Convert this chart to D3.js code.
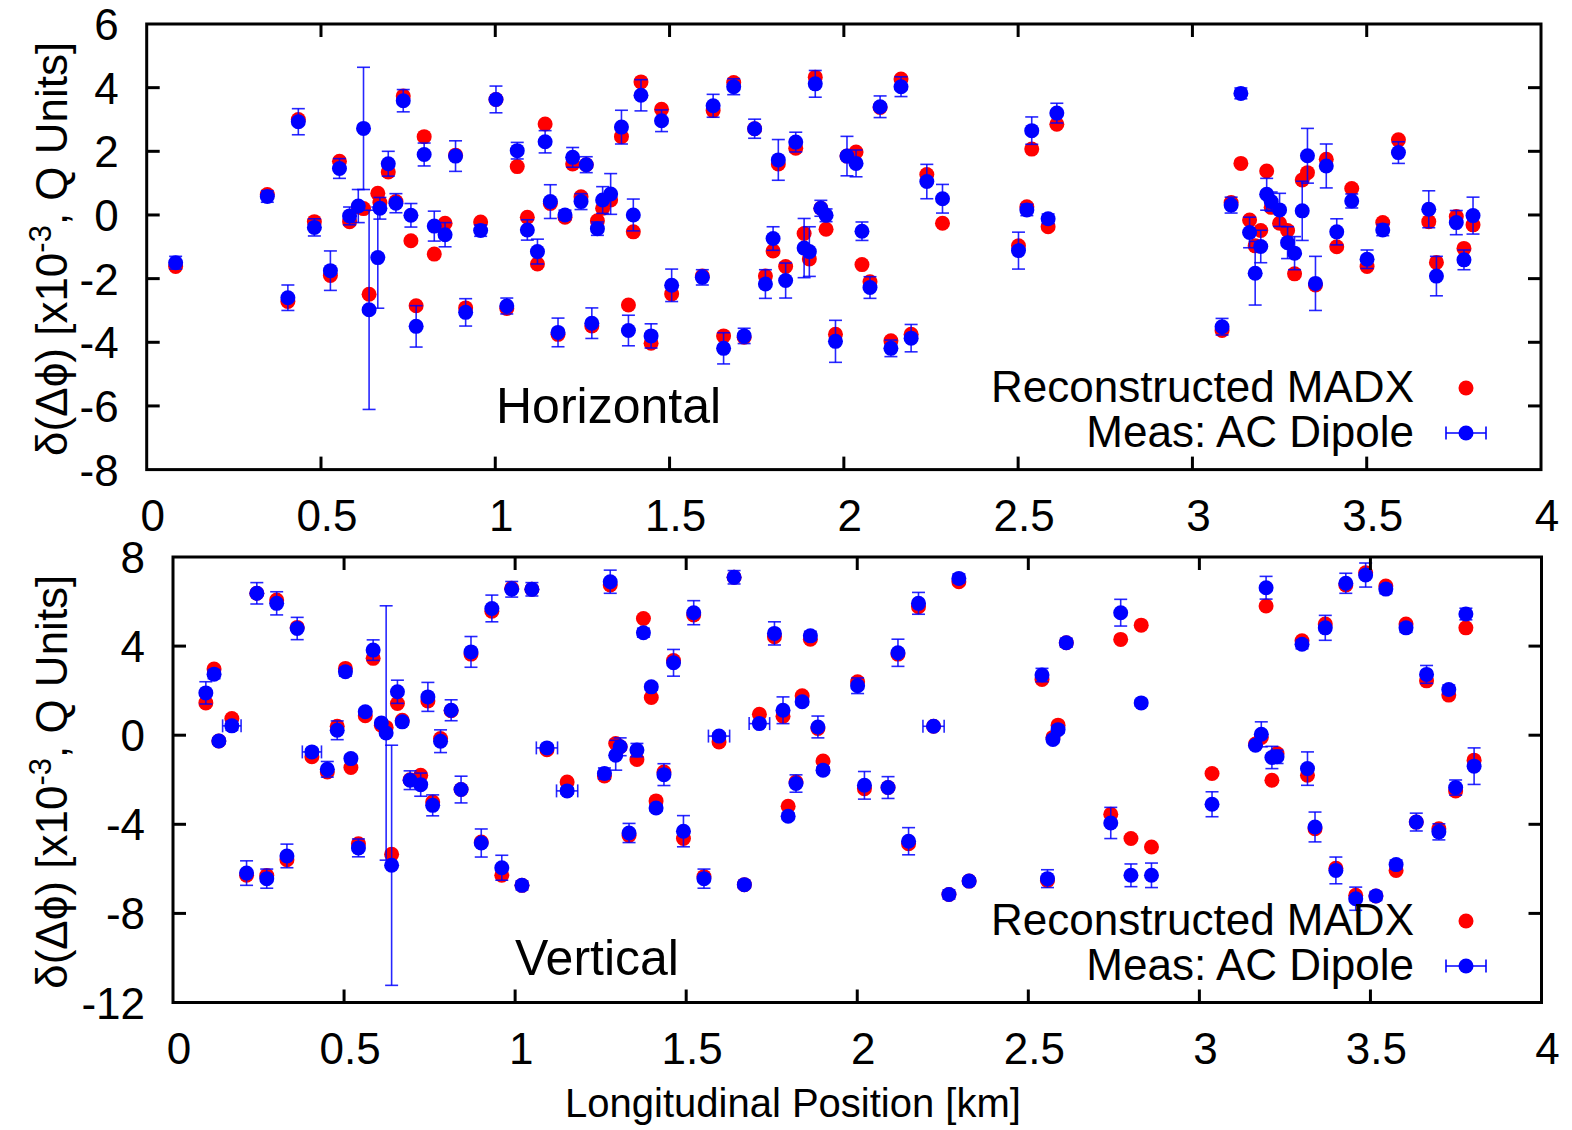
<!DOCTYPE html>
<html lang="en">
<head>
  <meta charset="UTF-8">
  <title>Phase advance deviation</title>
  <script src="https://d3js.org/d3.v7.min.js"></script>
  <style>
    body { margin: 0; background: #fff; }
    svg { display: block; font-family: "Liberation Sans", Arial, sans-serif; }
  </style>
</head>
<body>
  <svg width="1572" height="1130"></svg>

  <script>
    // ---- data (km, 1e-3 Q units) ----
    const posH = [0.083,0.346,0.405,0.435,0.481,0.527,0.553,0.582,0.607,0.622,0.638,0.663,0.669,0.693,0.715,0.736,0.758,0.773,0.796,0.825,0.856,0.886,0.915,0.958,
      1.002,1.033,1.063,1.092,1.121,1.143,1.158,1.180,1.200,1.222,1.246,1.261,1.277,1.293,1.308,1.331,1.362,1.382,1.396,1.418,1.447,1.477,1.506,
      1.594,1.625,1.655,1.684,1.714,1.744,1.775,1.797,1.812,1.833,1.862,1.886,1.901,1.918,1.934,1.949,1.976,
      2.009,2.035,2.052,2.075,2.104,2.135,2.164,2.193,2.238,2.283,2.501,2.525,2.539,2.586,2.611,
      3.085,3.111,3.139,3.164,3.180,3.196,3.213,3.226,3.250,3.273,3.293,3.315,3.330,3.353,3.384,3.414,3.457,3.501,3.546,3.591,3.678,3.700,3.757,3.779,3.805];
    const madxH = [-1.62,0.64,-2.72,3.00,-0.21,-1.90,1.69,-0.21,0.25,0.20,-2.49,0.68,0.39,1.35,0.42,3.74,-0.81,-2.85,2.46,-1.23,-0.26,1.88,-2.92,-0.22,
      3.63,-2.94,1.52,-0.07,-1.54,2.86,0.36,-3.75,-0.07,1.60,0.57,1.58,-3.49,-0.18,0.21,0.47,2.46,-2.83,-0.53,4.18,-4.03,3.32,-2.48,
      -1.92,3.28,-3.80,4.16,-3.84,2.71,-1.92,-1.13,1.60,-1.62,2.10,-0.58,-1.38,4.33,0.21,-0.45,-3.75,
      1.85,1.98,-1.56,-2.10,3.38,-3.95,4.27,-3.75,1.27,-0.26,-0.97,0.26,2.07,-0.37,2.85,
      -3.63,0.39,1.62,-0.16,-0.97,-0.49,1.38,0.24,-0.26,-0.49,-1.85,1.10,1.33,-2.20,1.75,-1.00,0.83,-1.62,-0.24,2.36,-0.21,-1.49,-0.05,-1.05,-0.31];
    const measH = [-1.50,0.58,-2.60,2.93,-0.39,-1.75,1.46,-0.03,0.28,2.72,-2.98,-1.34,0.21,1.61,0.37,3.59,-0.01,-3.50,1.90,-0.35,-0.62,1.85,-3.06,-0.49,
      3.63,-2.86,2.02,-0.47,-1.15,2.30,0.42,-3.69,0.00,1.81,0.42,1.58,-3.40,-0.43,0.47,0.66,2.76,-3.63,0.00,3.76,-3.80,2.96,-2.21,
      -1.96,3.43,-4.19,4.03,-3.80,2.71,-2.17,-0.74,1.73,-2.06,2.29,-1.04,-1.15,4.12,0.21,-0.01,-3.97,
      1.85,1.62,-0.51,-2.28,3.40,-4.19,4.03,-3.87,1.05,0.51,-1.12,0.16,2.65,-0.12,3.20,
      -3.51,0.31,3.82,-0.55,-1.83,-0.99,0.65,0.42,0.16,-0.87,-1.20,0.13,1.86,-2.15,1.54,-0.53,0.44,-1.39,-0.47,1.96,0.18,-1.92,-0.24,-1.41,-0.02];
    const errH = [0.20,0.18,0.40,0.41,0.27,0.62,0.31,0.28,0.52,1.92,3.13,1.59,0.34,0.39,0.30,0.35,0.37,0.65,0.36,0.47,0.38,0.48,0.43,0.18,
      0.42,0.25,0.26,0.32,0.39,0.35,0.53,0.45,0.15,0.31,0.25,0.25,0.48,0.21,0.42,0.64,0.53,0.48,0.50,0.49,0.38,0.34,0.51,
      0.24,0.36,0.49,0.25,0.24,0.30,0.45,0.37,0.64,0.55,0.31,0.93,0.78,0.42,0.25,0.20,0.66,
      0.62,0.42,0.29,0.34,0.34,0.26,0.31,0.43,0.54,0.45,0.58,0.18,0.43,0.15,0.31,
      0.26,0.25,0.17,0.48,1.00,0.51,0.50,0.30,0.52,0.50,0.52,0.93,0.86,0.85,0.69,0.41,0.22,0.29,0.18,0.34,0.58,0.62,0.38,0.31,0.58];

    const posV = [0.096,0.120,0.134,0.172,0.215,0.245,0.274,0.303,0.333,0.363,0.406,0.451,0.480,0.504,0.520,0.542,0.562,0.585,0.609,0.623,0.639,0.656,0.670,0.693,0.724,0.745,0.759,0.782,0.813,0.842,0.871,0.901,0.932,0.961,0.990,
      1.020,1.049,1.093,1.152,1.261,1.278,1.294,1.307,1.333,1.356,1.375,1.398,1.412,1.435,1.463,1.492,1.522,1.552,1.596,1.640,1.670,1.714,1.758,1.783,1.798,1.821,1.839,1.863,1.885,1.900,
      2.001,2.021,2.090,2.119,2.150,2.179,2.223,2.268,2.297,2.327,2.540,2.556,2.572,2.587,2.611,2.741,2.770,2.800,2.830,2.860,
      3.037,3.164,3.181,3.195,3.212,3.227,3.300,3.316,3.338,3.368,3.399,3.428,3.457,3.486,3.516,3.545,3.575,3.604,3.634,3.664,3.700,3.729,3.749,3.779,3.803];
    const madxV = [1.45,2.97,-0.26,0.75,-6.29,6.37,-6.30,6.07,-5.59,4.84,-0.97,-1.65,0.40,3.00,-1.45,-4.87,0.87,3.45,0.45,0.35,-5.35,1.42,0.67,-2.00,-1.80,1.54,-3.00,-0.15,1.10,-2.44,3.64,-4.80,5.57,-6.29,6.60,
      -6.74,6.55,-0.65,-2.10,-1.83,6.74,-0.37,-0.52,-4.50,-1.09,5.24,1.69,-2.95,-1.65,3.35,-4.64,5.40,-6.35,-0.30,7.09,-6.71,0.94,4.42,0.85,-3.19,-2.10,1.77,4.31,0.30,-1.16,
      2.40,-2.40,-2.35,3.64,-4.87,5.77,0.40,-7.15,6.89,-6.55,2.50,-6.52,-0.10,0.45,4.15,-3.55,4.30,-4.64,4.94,-5.02,
      -1.72,-0.40,-0.10,5.80,-2.02,-0.82,4.24,-1.80,-4.20,4.99,-5.97,6.74,-7.19,7.29,-7.22,6.70,-6.07,4.99,-3.90,2.44,-4.20,1.80,-2.50,4.82,-1.12];
    const measV = [1.90,2.74,-0.26,0.42,-6.19,6.37,-6.44,5.92,-5.42,4.79,-0.75,-1.53,0.22,2.85,-1.05,-5.06,1.05,3.82,0.55,0.10,-5.84,1.95,0.60,-2.02,-2.22,1.72,-3.15,-0.27,1.12,-2.44,3.74,-4.84,5.69,-5.95,6.55,
      -6.74,6.55,-0.57,-2.50,-1.72,6.89,-0.90,-0.52,-4.39,-0.67,4.60,2.17,-3.27,-1.77,3.25,-4.31,5.50,-6.44,-0.04,7.09,-6.71,0.52,4.57,1.12,-3.64,-2.17,1.50,4.46,0.37,-1.57,
      2.22,-2.25,-2.35,3.70,-4.76,5.92,0.40,-7.15,7.04,-6.55,2.70,-6.44,-0.19,0.25,4.15,-3.94,5.50,-6.29,1.45,-6.29,
      -3.10,-0.45,0.04,6.62,-1.00,-0.97,4.08,-1.50,-4.12,4.82,-6.07,6.82,-7.34,7.19,-7.22,6.56,-5.81,4.82,-3.90,2.73,-4.34,2.05,-2.35,5.44,-1.39];
    const errV = [0.50,0.20,0.15,0.20,0.55,0.48,0.43,0.52,0.53,0.50,0.15,0.35,0.42,0.20,0.15,0.40,0.15,0.46,0.15,5.71,5.39,0.52,0.15,0.42,0.52,0.65,0.47,0.51,0.47,0.60,0.69,0.63,0.60,0.56,0.35,
      0.20,0.30,0.15,0.15,0.25,0.52,0.67,0.40,0.43,0.30,0.20,0.15,0.15,0.49,0.60,0.70,0.54,0.43,0.15,0.30,0.15,0.15,0.52,0.60,0.15,0.39,0.15,0.20,0.49,0.15,
      0.35,0.62,0.49,0.61,0.61,0.49,0.10,0.20,0.20,0.15,0.30,0.40,0.15,0.15,0.20,0.70,0.60,0.51,0.15,0.55,
      0.56,0.10,0.56,0.51,0.50,0.30,0.20,0.75,0.67,0.56,0.60,0.45,0.52,0.54,0.20,0.20,0.20,0.20,0.40,0.40,0.36,0.20,0.34,0.26,0.82];
    const xerrV = [0,0,0,0.027,0,0,0,0,0,0,0.028,0,0,0,0,0,0,0,0,0,0,0,0,0,0,0,0,0,0,0,0,0,0,0,0,
      0,0,0.031,0.031,0,0,0,0,0,0,0,0,0,0,0,0,0,0,0.031,0,0,0.030,0,0,0,0,0,0,0,0,
      0,0,0,0,0,0,0.031,0,0,0,0,0,0,0,0,0,0,0,0,0,
      0,0,0,0,0,0,0,0,0,0,0,0,0,0,0,0,0,0,0,0,0,0,0,0,0];

    const xTicks = [0, 0.5, 1, 1.5, 2, 2.5, 3, 3.5, 4];
    const yTicksH = [-8, -6, -4, -2, 0, 2, 4, 6];
    const yTicksV = [-12, -8, -4, 0, 4, 8];

    const svg = d3.select("svg");
    const RED = "#ff0000", BLUE = "#0000ff";
    const R = 7.5, CAP = 6.5, TICK = 13;

    function panel(cfg) {
      const x = d3.scaleLinear().domain([0, 4]).range([cfg.left, cfg.right]);
      const y = d3.scaleLinear().domain(cfg.yDomain).range([cfg.bottom, cfg.top]);
      const g = svg.append("g");

      const pts = cfg.pos.map((p, i) => ({
        p, m: cfg.madx[i], v: cfg.meas[i], e: cfg.err[i], xe: cfg.xerr ? cfg.xerr[i] : 0
      }));

      // reconstructed (red)
      g.selectAll("circle.madx").data(pts).enter().append("circle")
        .attr("cx", d => x(d.p)).attr("cy", d => y(d.m))
        .attr("r", R).attr("fill", RED);

      // measurement error bars
      const eb = g.append("g").attr("stroke", BLUE).attr("stroke-width", 1.6).attr("stroke-opacity", 0.85);
      pts.forEach(d => {
        const cx = x(d.p), y1 = y(d.v - d.e), y2 = y(d.v + d.e);
        eb.append("line").attr("x1", cx).attr("x2", cx).attr("y1", y1).attr("y2", y2);
        eb.append("line").attr("x1", cx - CAP).attr("x2", cx + CAP).attr("y1", y1).attr("y2", y1);
        eb.append("line").attr("x1", cx - CAP).attr("x2", cx + CAP).attr("y1", y2).attr("y2", y2);
        if (d.xe > 0) {
          const cy = y(d.v), x1 = x(d.p - d.xe), x2 = x(d.p + d.xe);
          eb.append("line").attr("x1", x1).attr("x2", x2).attr("y1", cy).attr("y2", cy);
          eb.append("line").attr("x1", x1).attr("x2", x1).attr("y1", cy - CAP).attr("y2", cy + CAP);
          eb.append("line").attr("x1", x2).attr("x2", x2).attr("y1", cy - CAP).attr("y2", cy + CAP);
        }
      });

      g.selectAll("circle.meas").data(pts).enter().append("circle")
        .attr("cx", d => x(d.p)).attr("cy", d => y(d.v))
        .attr("r", R).attr("fill", BLUE);

      // frame + mirrored inward ticks
      const ax = g.append("g").attr("stroke", "#000").attr("stroke-width", 3);
      ax.append("rect").attr("x", cfg.left).attr("y", cfg.top)
        .attr("width", cfg.right - cfg.left).attr("height", cfg.bottom - cfg.top).attr("fill", "none");
      xTicks.slice(1, -1).forEach(t => {
        ax.append("line").attr("x1", x(t)).attr("x2", x(t)).attr("y1", cfg.bottom).attr("y2", cfg.bottom - TICK);
        ax.append("line").attr("x1", x(t)).attr("x2", x(t)).attr("y1", cfg.top).attr("y2", cfg.top + TICK);
      });
      cfg.yTicks.slice(1, -1).forEach(t => {
        ax.append("line").attr("x1", cfg.left).attr("x2", cfg.left + TICK).attr("y1", y(t)).attr("y2", y(t));
        ax.append("line").attr("x1", cfg.right).attr("x2", cfg.right - TICK).attr("y1", y(t)).attr("y2", y(t));
      });

      // tick labels
      g.selectAll("text.xt").data(xTicks).enter().append("text")
        .attr("x", d => x(d) + 6).attr("y", cfg.bottom + 61)
        .attr("text-anchor", "middle").attr("font-size", 44).text(d => String(d));
      g.selectAll("text.yt").data(cfg.yTicks).enter().append("text")
        .attr("x", cfg.left - 28).attr("y", d => y(d) + 16)
        .attr("text-anchor", "end").attr("font-size", 44).text(d => String(d));

      // y label
      const yl = g.append("text")
        .attr("transform", `translate(67,${(cfg.top + cfg.bottom) / 2 + 2}) rotate(-90)`)
        .attr("text-anchor", "middle").attr("font-size", 44);
      yl.append("tspan").text("δ(Δϕ) [x10");
      yl.append("tspan").attr("dy", -16).attr("font-size", 31).text("-3");
      yl.append("tspan").attr("dy", 16).text(", Q Units]");

      // plane label
      g.append("text").attr("x", cfg.labelX).attr("y", cfg.labelY)
        .attr("font-size", 50).text(cfg.label);

      // legend
      const lx = 1414, sx = 1466;
      g.append("text").attr("x", lx).attr("y", cfg.legY).attr("text-anchor", "end")
        .attr("font-size", 44).text("Reconstructed MADX");
      g.append("circle").attr("cx", sx).attr("cy", cfg.legY - 14).attr("r", R).attr("fill", RED);
      const ly = cfg.legY + 45;
      g.append("text").attr("x", lx).attr("y", ly).attr("text-anchor", "end")
        .attr("font-size", 44).text("Meas: AC Dipole");
      const lg = g.append("g").attr("stroke", BLUE).attr("stroke-width", 1.6);
      lg.append("line").attr("x1", sx - 20).attr("x2", sx + 20).attr("y1", ly - 14).attr("y2", ly - 14);
      lg.append("line").attr("x1", sx - 20).attr("x2", sx - 20).attr("y1", ly - 14 - CAP).attr("y2", ly - 14 + CAP);
      lg.append("line").attr("x1", sx + 20).attr("x2", sx + 20).attr("y1", ly - 14 - CAP).attr("y2", ly - 14 + CAP);
      g.append("circle").attr("cx", sx).attr("cy", ly - 14).attr("r", R).attr("fill", BLUE);
    }

    panel({
      pos: posH, madx: madxH, meas: measH, err: errH,
      left: 146.7, right: 1541, top: 24, bottom: 469.6,
      yDomain: [-8, 6], yTicks: yTicksH,
      label: "Horizontal", labelX: 496, labelY: 423, legY: 402
    });

    panel({
      pos: posV, madx: madxV, meas: measV, err: errV, xerr: xerrV,
      left: 173, right: 1541.5, top: 557, bottom: 1002.5,
      yDomain: [-12, 8], yTicks: yTicksV,
      label: "Vertical", labelX: 515, labelY: 975, legY: 935
    });

    svg.append("text").attr("x", 793).attr("y", 1117).attr("text-anchor", "middle")
      .attr("font-size", 40).text("Longitudinal Position [km]");
  </script>
</body>
</html>
